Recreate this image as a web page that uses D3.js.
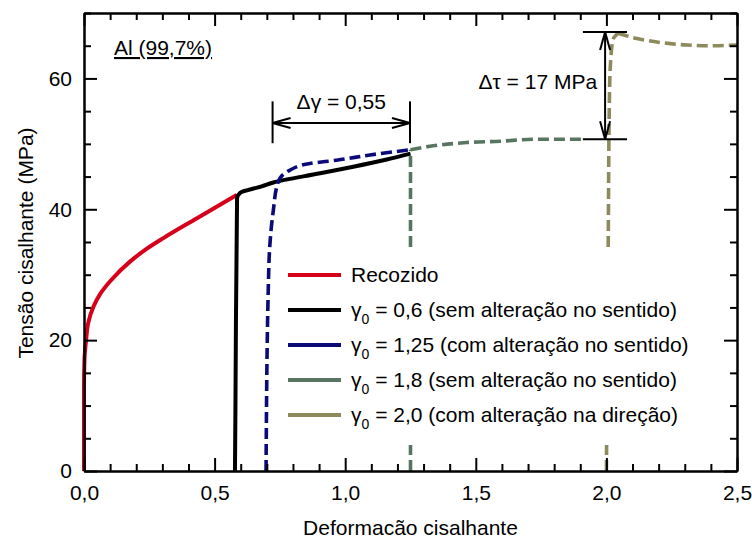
<!DOCTYPE html>
<html>
<head>
<meta charset="utf-8">
<script src="https://cdn.jsdelivr.net/npm/d3@7"></script>
<style>
  body { margin: 0; background: #fff; }
  text { font-family: "Liberation Sans", Arial, sans-serif; fill: #000; }
</style>
</head>
<body>
<div id="chart"></div>
<script>
// Data: [shear strain, shear stress (MPa)]
const recozido = [[0, 0], [0, 12.9], [0.002, 17.2], [0.008, 20], [0.016, 22.6], [0.036, 25.1],
  [0.061, 27.0], [0.1, 29.0], [0.176, 32.0], [0.234, 33.8], [0.304, 35.6], [0.431, 38.6], [0.585, 42.2]];
const gamma06 = [[0.578, 0], [0.58, 11], [0.586, 41.7], [0.597, 42.5], [0.68, 43.5], [0.725, 44.1],
  [0.904, 45.5], [1.031, 46.5], [1.159, 47.6], [1.25, 48.5]];
const gamma125 = [[0.697, 0], [0.706, 28.7], [0.712, 34.8], [0.725, 39.9], [0.742, 44.0], [0.765, 45.4],
  [0.789, 46.0], [0.865, 47.0], [0.967, 47.5], [1.095, 48.3], [1.25, 49.1]];
const gamma18 = [[1.25, 0], [1.25, 49.1], [1.337, 49.7], [1.465, 50.2], [1.593, 50.4], [1.72, 50.7], [1.905, 50.7]];
const gamma20 = [[2.0, 0], [2.007, 35], [2.012, 58], [2.016, 62.5], [2.025, 65.9], [2.044, 66.9],
  [2.117, 66.1], [2.205, 65.5], [2.309, 65.1], [2.4, 65.0], [2.5, 65.1]];

const seriesData = [recozido, gamma06, gamma125, gamma18, gamma20];
const seriesColors = ["#d7001b", "#000000", "#0a0a78", "#587561", "#8d8a5b"];
const seriesDash = [null, null, "11,5", "11,5", "11,5"];
// index where a curve stops rising and starts running along x
const seriesTurn = [null, null, null, 1, 5];
const legendGamma = [null, "0,6", "1,25", "1,8", "2,0"];
const legendNote = ["Recozido", "(sem alteração no sentido)", "(com alteração no sentido)",
  "(sem alteração no sentido)", "(com alteração na direção)"];

const xMajor = [0, 0.5, 1.0, 1.5, 2.0, 2.5];
const yMajor = [0, 20, 40, 60];

// annotations (data coordinates)
const dGamma = { x0: 0.722, x1: 1.248, y: 53.2, yLo: 50.1, yHi: 56.5, label: "Δγ = 0,55" };
const dTau = { x: 1.995, y0: 50.7, y1: 67.1, xLo: 1.91, xHi: 2.079, label: "Δτ = 17 MPa" };

const margin = { top: 13, right: 15, bottom: 72, left: 84 };
const width = 752 - margin.left - margin.right;
const height = 543 - margin.top - margin.bottom;

const svg = d3.select("#chart")
  .append("svg")
  .attr("width", 752)
  .attr("height", 543)
  .append("g")
  .attr("transform", `translate(${margin.left}, ${margin.top})`);

const x = d3.scaleLinear().domain([0, 2.5]).range([0, width]);
const y = d3.scaleLinear().domain([0, 70]).range([height, 0]);

const comma = v => d3.format(".1f")(v).replace(".", ",");
const xMinor = d3.range(0, 2.51, 0.1).filter(v => Math.abs(v * 2 - Math.round(v * 2)) > 0.01);
const yMinor = d3.range(0, 71, 5).filter(v => v % 20 !== 0);

// curves: rising part smoothed along y, flat part smoothed along x
const riseLine = d3.line().x(d => x(d[0])).y(d => y(d[1])).curve(d3.curveMonotoneY);
const flatLine = d3.line().x(d => x(d[0])).y(d => y(d[1])).curve(d3.curveMonotoneX);

seriesData.forEach((s, i) => {
  const k = seriesTurn[i] === null ? s.length - 1 : seriesTurn[i];
  const parts = [[s.slice(0, k + 1), riseLine], [s.slice(k), flatLine]];
  parts.forEach(([pts, gen]) => {
    if (pts.length < 2) return;
    svg.append("path")
      .datum(pts)
      .attr("fill", "none")
      .attr("stroke", seriesColors[i])
      .attr("stroke-width", i < 2 ? 4 : 3.6)
      .attr("stroke-dasharray", seriesDash[i])
      .attr("d", gen);
  });
});

// legend (white box hides the vertical parts behind it)
const legend = svg.append("g").attr("transform", `translate(${-margin.left}, ${-margin.top})`);
legend.append("rect")
  .attr("x", 280)
  .attr("y", 252)
  .attr("width", 425)
  .attr("height", 193)
  .attr("fill", "#fff");

const legendItem = legend.selectAll(".legendItem")
  .data(seriesColors)
  .enter().append("g")
  .attr("class", "legendItem")
  .attr("transform", (d, i) => `translate(288, ${275 + i * 35})`);

legendItem.append("line")
  .attr("x1", 0).attr("x2", 53)
  .attr("stroke", d => d)
  .attr("stroke-width", 4);

legendItem.append("text")
  .attr("x", 63)
  .attr("dy", "0.35em")
  .style("font-size", "21px")
  .each(function (d, i) {
    const t = d3.select(this);
    if (legendGamma[i] === null) {
      t.text(legendNote[i]);
      return;
    }
    t.append("tspan").text("γ");
    t.append("tspan").attr("dy", 7).style("font-size", "14px").text("0");
    t.append("tspan").attr("dy", -7).text(` = ${legendGamma[i]} ${legendNote[i]}`);
  });

// axes: ticks point inwards on all four sides
function addAxis(axis, transform, values, size, labels) {
  const g = svg.append("g")
    .attr("transform", transform)
    .call(axis.tickValues(values).tickSizeInner(size).tickSizeOuter(0));
  g.selectAll(".tick line").attr("stroke-width", 2);
  g.select(".domain").attr("stroke-width", 2);
  if (!labels) g.selectAll(".tick text").remove();
  return g;
}

addAxis(d3.axisBottom(x).tickFormat(comma).tickPadding(14), `translate(0, ${height})`, xMajor, -13, true);
addAxis(d3.axisBottom(x), `translate(0, ${height})`, xMinor, -7, false);
addAxis(d3.axisTop(x), "translate(0, 0)", xMajor, -13, false);
addAxis(d3.axisTop(x), "translate(0, 0)", xMinor, -7, false);
addAxis(d3.axisLeft(y).tickFormat(d3.format("d")).tickPadding(12), "translate(0, 0)", yMajor, -13, true);
addAxis(d3.axisLeft(y), "translate(0, 0)", yMinor, -7, false);
addAxis(d3.axisRight(y), `translate(${width}, 0)`, yMajor, -13, false);
addAxis(d3.axisRight(y), `translate(${width}, 0)`, yMinor, -7, false);

svg.selectAll(".tick text")
  .style("font-size", "21px")
  .attr("font-family", null);

// axis titles
svg.append("text")
  .attr("x", width / 2)
  .attr("y", height + 64)
  .attr("text-anchor", "middle")
  .style("font-size", "21px")
  .text("Deformacão cisalhante");

svg.append("text")
  .attr("transform", `translate(${33 - margin.left}, ${height / 2 + 1}) rotate(-90)`)
  .attr("text-anchor", "middle")
  .style("font-size", "21px")
  .text("Tensão cisalhante (MPa)");

svg.append("text")
  .attr("x", 114 - margin.left)
  .attr("y", 55 - margin.top)
  .style("font-size", "21px")
  .style("text-decoration", "underline")
  .text("Al (99,7%)");

// annotation helpers
function seg(x1, y1, x2, y2) {
  svg.append("line")
    .attr("x1", x1).attr("y1", y1).attr("x2", x2).attr("y2", y2)
    .attr("stroke", "#000").attr("stroke-width", 2);
}
function head(tx, ty, dx, dy) {
  // open arrow head at (tx, ty) pointing in direction (dx, dy)
  const L = 18, W = 5;
  const px = -dy, py = dx;
  seg(tx, ty, tx - dx * L + px * W, ty - dy * L + py * W);
  seg(tx, ty, tx - dx * L - px * W, ty - dy * L - py * W);
}

// Δγ
seg(x(dGamma.x0), y(dGamma.yLo), x(dGamma.x0), y(dGamma.yHi));
seg(x(dGamma.x1), y(dGamma.yLo), x(dGamma.x1), y(dGamma.yHi));
seg(x(dGamma.x0), y(dGamma.y), x(dGamma.x1), y(dGamma.y));
head(x(dGamma.x0), y(dGamma.y), -1, 0);
head(x(dGamma.x1), y(dGamma.y), 1, 0);
svg.append("text")
  .attr("x", (x(dGamma.x0) + x(dGamma.x1)) / 2)
  .attr("y", y(dGamma.yHi) + 8)
  .attr("text-anchor", "middle")
  .style("font-size", "21px")
  .text(dGamma.label);

// Δτ
seg(x(dTau.xLo), y(dTau.y1), x(dTau.xHi), y(dTau.y1));
seg(x(dTau.xLo), y(dTau.y0), x(dTau.xHi), y(dTau.y0));
seg(x(dTau.x), y(dTau.y0), x(dTau.x), y(dTau.y1));
head(x(dTau.x), y(dTau.y1), 0, -1);
head(x(dTau.x), y(dTau.y0), 0, 1);
svg.append("text")
  .attr("x", x(dTau.x) - 8)
  .attr("y", (y(dTau.y0) + y(dTau.y1)) / 2 - 4)
  .attr("dy", "0.35em")
  .attr("text-anchor", "end")
  .style("font-size", "21px")
  .text(dTau.label);
</script>
</body>
</html>
